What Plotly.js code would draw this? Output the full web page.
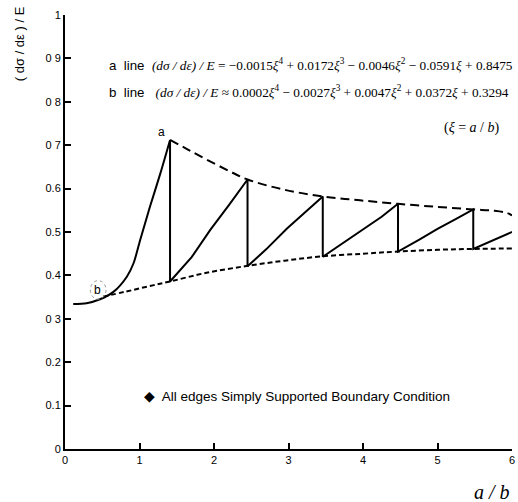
<!DOCTYPE html>
<html><head><meta charset="utf-8">
<script src="https://cdn.plot.ly/plotly-3.0.1.min.js"></script>
<style>body{margin:0;background:#fff}#c{width:518px;height:502px}</style>
</head><body><div id="c"></div>
<script>
// solid line, first rising branch
const riseX = [0.11, 0.29, 0.47, 0.65, 0.83, 0.92, 1.01, 1.14, 1.28, 1.41];
const riseY = [0.334, 0.336, 0.345, 0.362, 0.397, 0.428, 0.482, 0.558, 0.635, 0.712];
// solid line, saw-tooth branches after first mode change
const sawX = [1.41, 1.41, 1.70, 1.95, 2.20, 2.45, 2.45, 2.70, 2.98, 3.20, 3.46, 3.46, 3.75, 4.00, 4.25, 4.47, 4.47, 4.75, 5.00, 5.25, 5.48, 5.48, 5.75, 6.00];
const sawY = [0.712, 0.386, 0.442, 0.505, 0.562, 0.621, 0.421, 0.460, 0.508, 0.543, 0.582, 0.443, 0.477, 0.505, 0.535, 0.565, 0.455, 0.482, 0.507, 0.530, 0.552, 0.461, 0.481, 0.500];
// upper dashed envelope (a line)
const upperX = [1.41, 1.65, 1.90, 2.21, 2.45, 2.93, 3.46, 3.96, 4.47, 4.99, 5.48, 5.75, 5.93, 6.00];
const upperY = [0.712, 0.690, 0.667, 0.640, 0.621, 0.598, 0.582, 0.573, 0.565, 0.558, 0.552, 0.549, 0.544, 0.538];
// lower dashed envelope (b line)
const lowerX = [0.51, 0.80, 1.10, 1.41, 1.90, 2.45, 2.95, 3.46, 4.00, 4.47, 5.00, 5.48, 6.00];
const lowerY = [0.351, 0.362, 0.374, 0.386, 0.406, 0.422, 0.434, 0.444, 0.450, 0.455, 0.459, 0.461, 0.462];
const xTicks = [0, 1, 2, 3, 4, 5, 6];
const yTicks = [0, 0.1, 0.2, 0.3, 0.4, 0.5, 0.6, 0.7, 0.8, 0.9, 1];
const yTickText = ['0', '0.1', '0.2', '0 3', '0.4', '0.5', '0.6', '0 7', '0 8', '0 9', '1'];

const serif = 'font-family:Liberation Serif,Times New Roman,serif;font-style:italic';
const sfx = (n) => `<span style="${serif}">ξ</span><sup>${n}</sup>`;
const eqA = `a  line  <span style="${serif}">(dσ / dε) / E</span><span style="font-family:Liberation Serif,serif"> = −0.0015${sfx(4)} + 0.0172${sfx(3)} − 0.0046${sfx(2)} − 0.0591<span style="${serif}">ξ</span> + 0.8475</span>`;
const eqB = `b  line   <span style="${serif}">(dσ / dε) / E</span><span style="font-family:Liberation Serif,serif"> ≈ 0.0002${sfx(4)} − 0.0027${sfx(3)} + 0.0047${sfx(2)} + 0.0372<span style="${serif}">ξ</span> + 0.3294</span>`;

const traces = [
  {x: riseX, y: riseY, mode: 'lines', line: {color: '#000', width: 2, shape: 'spline', smoothing: 0.8}, hoverinfo: 'none'},
  {x: sawX, y: sawY, mode: 'lines', line: {color: '#000', width: 2}, hoverinfo: 'none'},
  {x: upperX, y: upperY, mode: 'lines', line: {color: '#000', width: 2, dash: '9px,5px', shape: 'spline'}, hoverinfo: 'none'},
  {x: lowerX, y: lowerY, mode: 'lines', line: {color: '#000', width: 2, dash: '5px,3px', shape: 'spline'}, hoverinfo: 'none'}
];

const layout = {
  width: 518, height: 502,
  margin: {l: 65, r: 6, t: 15, b: 53},
  paper_bgcolor: '#fff', plot_bgcolor: '#fff',
  showlegend: false,
  font: {family: 'Liberation Sans, Arial, sans-serif', color: '#000', size: 11},
  xaxis: {range: [0, 6], tickvals: xTicks, ticks: 'inside', ticklen: 6, tickwidth: 2, tickcolor: '#000',
    showline: true, linecolor: '#000', linewidth: 2, showgrid: false, zeroline: false,
    tickfont: {size: 11, family: 'Liberation Sans, Arial, sans-serif'}},
  yaxis: {range: [0, 1], tickvals: yTicks, ticktext: yTickText, ticks: 'inside', ticklen: 6, tickwidth: 2, tickcolor: '#000',
    showline: true, linecolor: '#000', linewidth: 2, showgrid: false, zeroline: false,
    tickfont: {size: 11, family: 'Liberation Sans, Arial, sans-serif'}},
  annotations: [
    {xref: 'paper', yref: 'paper', x: 0.095, y: 0.885, xanchor: 'left', yanchor: 'middle', showarrow: false, text: eqA, font: {size: 13.3}},
    {xref: 'paper', yref: 'paper', x: 0.095, y: 0.823, xanchor: 'left', yanchor: 'middle', showarrow: false, text: eqB, font: {size: 13.3}},
    {xref: 'paper', yref: 'paper', x: 0.975, y: 0.739, xanchor: 'right', yanchor: 'middle', showarrow: false,
      text: '(<i>ξ</i> = <i>a</i> / <i>b</i>)', font: {size: 14, family: 'Liberation Serif, Times New Roman, serif'}},
    {xref: 'x', yref: 'y', x: 1.30, y: 0.73, showarrow: false, text: 'a', font: {size: 12}},
    {xref: 'x', yref: 'y', x: 0.44, y: 0.366, showarrow: false, text: 'b', font: {size: 12}},
    {xref: 'paper', yref: 'paper', x: 0.519, y: 0.12, xanchor: 'center', yanchor: 'middle', showarrow: false,
      text: '◆  All edges Simply Supported Boundary Condition', font: {size: 13.5}},
    {xref: 'paper', yref: 'paper', x: -0.103, y: 0.935, xanchor: 'center', yanchor: 'middle', textangle: -90, showarrow: false,
      text: '( dσ / dε ) / E', font: {size: 13}},
    {xref: 'paper', yref: 'paper', x: 1.0, y: -0.1, xanchor: 'right', yanchor: 'middle', showarrow: false,
      text: '<i>a / b</i>', font: {size: 20, family: 'Liberation Serif, Times New Roman, serif'}}
  ],
  shapes: [
    {type: 'circle', xref: 'x', yref: 'y', x0: 0.34, x1: 0.55, y0: 0.345, y1: 0.388, line: {color: '#999', width: 1, dash: 'dot'}}
  ]
};
Plotly.newPlot('c', traces, layout, {staticPlot: true, displayModeBar: false});
</script></body></html>
